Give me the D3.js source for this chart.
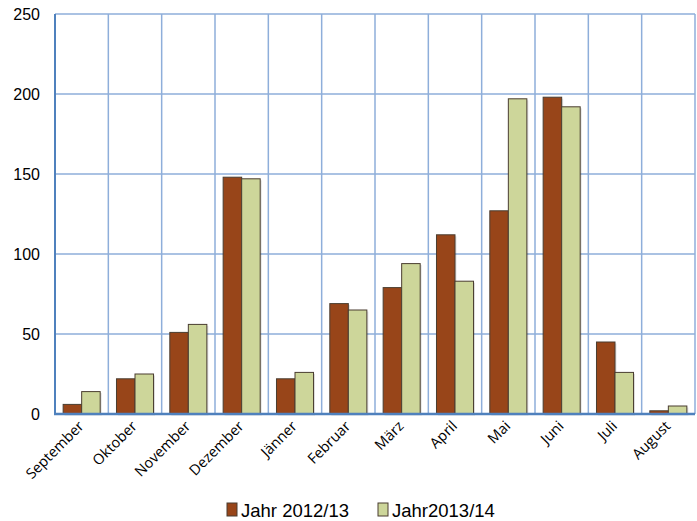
<!DOCTYPE html>
<html><head><meta charset="utf-8">
<script src="https://cdn.jsdelivr.net/npm/d3@7"></script>
<style>body{margin:0;background:#fff}</style>
</head><body>
<svg id="c" width="697" height="521"></svg>
<script>
const months = ["September","Oktober","November","Dezember","Jänner","Februar","März","April","Mai","Juni","Juli","August"];
const series = ["Jahr 2012/13","Jahr2013/14"];
const values2012 = [6,22,51,148,22,69,79,112,127,198,45,2];
const values2013 = [14,25,56,147,26,65,94,83,197,192,26,5];
const yTicks = [0,50,100,150,200,250];
const colors = ["#984519","#CDD69A"];

const svg = d3.select("#c");
const m = {l:55, r:695, t:14, b:414};
const x = d3.scaleBand().domain(months).range([m.l, m.r]);
const inner = d3.scaleBand().domain(series).range([0, x.bandwidth()]).paddingOuter(0.44).paddingInner(0);
const y = d3.scaleLinear().domain([0,250]).range([m.b, m.t]);

const g = svg.append("g");
g.selectAll(".hg").data(yTicks).join("line")
  .attr("x1", m.l).attr("x2", m.r).attr("y1", d=>y(d)).attr("y2", d=>y(d))
  .attr("stroke", "#8EAEDA").attr("stroke-width", 1.5);
const vx = months.map(d=>x(d)).concat([m.r]);
g.selectAll(".vg").data(vx).join("line")
  .attr("x1", d=>d).attr("x2", d=>d).attr("y1", m.t).attr("y2", m.b)
  .attr("stroke", "#8EAEDA").attr("stroke-width", 1.5);

const data = months.map((mo,i)=>({mo, vals:[values2012[i], values2013[i]]}));
const grp = svg.append("g").selectAll("g").data(data).join("g")
  .attr("transform", d=>`translate(${x(d.mo)},0)`);
grp.selectAll("rect.s").data(d=>d.vals.map((v,j)=>({v,j}))).join("rect").attr("class","s")
  .attr("x", d=>inner(series[d.j])+1.5).attr("y", d=>y(d.v)+1.5)
  .attr("width", inner.bandwidth()).attr("height", d=>y(0)-y(d.v))
  .attr("fill", "#000").attr("opacity", 0.12);
grp.selectAll("rect.b").data(d=>d.vals.map((v,j)=>({v,j}))).join("rect").attr("class","b")
  .attr("x", d=>inner(series[d.j])).attr("y", d=>y(d.v))
  .attr("width", inner.bandwidth()).attr("height", d=>y(0)-y(d.v))
  .attr("fill", d=>colors[d.j]).attr("stroke", "#4a3d30").attr("stroke-width", 1);

svg.append("line").attr("x1", m.l).attr("x2", m.l).attr("y1", m.t).attr("y2", m.b+1)
  .attr("stroke", "#4F81BD").attr("stroke-width", 2);
svg.append("line").attr("x1", m.l-1).attr("x2", m.r).attr("y1", m.b).attr("y2", m.b)
  .attr("stroke", "#4F81BD").attr("stroke-width", 2.5);

svg.selectAll(".yl").data(yTicks).join("text")
  .attr("x", 40).attr("y", d=>y(d)+5.5).attr("text-anchor","end")
  .attr("font-family","Liberation Sans, Arial").attr("font-size",16).attr("fill","#000")
  .text(d=>d);

svg.selectAll(".xl").data(months).join("text")
  .attr("transform", d=>`translate(${x(d)+x.bandwidth()/2+3},${427}) rotate(-45)`)
  .attr("text-anchor","end")
  .attr("font-family","Open Sans, sans-serif").attr("font-size",14.5).attr("fill","#000")
  .text(d=>d);

const leg = [{t:series[0], c:colors[0], x:227},{t:series[1], c:colors[1], x:378}];
const lg = svg.selectAll(".lg").data(leg).join("g").attr("transform", d=>`translate(${d.x},503)`);
lg.append("rect").attr("x",0).attr("y",0).attr("width",10).attr("height",13)
  .attr("fill", d=>d.c).attr("stroke","#4a3d30").attr("stroke-width",1);
lg.append("text").attr("x",14).attr("y",13.5)
  .attr("font-family","Liberation Sans, Arial").attr("font-size",18.5).attr("fill","#000")
  .text(d=>d.t);
</script>
</body></html>
